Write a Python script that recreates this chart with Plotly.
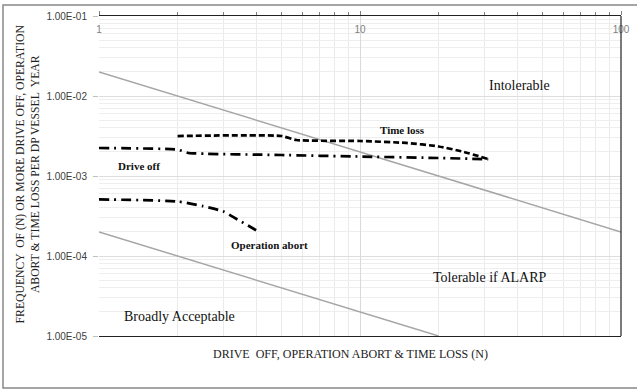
import numpy as np
import plotly.graph_objects as go

# ---- data ----
x_ticks = [1, 10, 100]
x_tick_labels = ["1", "10", "100"]
y_ticks = [1e-5, 1e-4, 1e-3, 1e-2, 1e-1]
y_tick_labels = ["1.00E-05", "1.00E-04", "1.00E-03", "1.00E-02", "1.00E-01"]

intolerable_n = [1, 100]
intolerable_f = [2e-2, 2e-4]
acceptable_n = [1, 20]
acceptable_f = [2e-4, 1e-5]

time_loss_n = [2, 5, 5.7, 10, 15, 20, 25, 31]
time_loss_f = [3.16e-3, 3.16e-3, 2.82e-3, 2.74e-3, 2.59e-3, 2.34e-3, 2.0e-3, 1.63e-3]

drive_off_n = [1, 2, 2.2, 5, 10, 20, 31]
drive_off_f = [2.24e-3, 2.14e-3, 1.94e-3, 1.83e-3, 1.75e-3, 1.68e-3, 1.62e-3]

op_abort_n = [1, 2, 2.5, 3, 3.25, 4]
op_abort_f = [5.1e-4, 4.8e-4, 4.2e-4, 3.6e-4, 3.1e-4, 2.1e-4]

label_texts = ["Intolerable", "Time loss", "Drive off", "Operation abort",
               "Tolerable if ALARP", "Broadly Acceptable"]
label_n = [41.0, 14.6, 1.42, 4.52, 31.5, 2.03]
label_f = [1.37e-2, 3.76e-3, 1.33e-3, 1.37e-4, 5.46e-5, 1.73e-5]
label_bold = [False, True, True, True, False, False]
label_size = [14, 11, 11, 11, 14, 14]

SERIF = "Liberation Serif, Times New Roman, serif"
SANS = "Liberation Sans, Arial, sans-serif"

fig = go.Figure()
for n, f in [(intolerable_n, intolerable_f), (acceptable_n, acceptable_f)]:
    fig.add_trace(go.Scatter(x=n, y=f, mode="lines", cliponaxis=True,
                             line=dict(color="#a6a6a6", width=1.5), hoverinfo="skip"))
fig.add_trace(go.Scatter(x=time_loss_n, y=time_loss_f, mode="lines",
                         line=dict(color="black", width=2.7, dash="6px,3px", shape="spline", smoothing=0.6)))
fig.add_trace(go.Scatter(x=drive_off_n, y=drive_off_f, mode="lines",
                         line=dict(color="black", width=2.7, dash="10px,5px,2px,5px", shape="spline", smoothing=0.4)))
fig.add_trace(go.Scatter(x=op_abort_n, y=op_abort_f, mode="lines",
                         line=dict(color="black", width=2.7, dash="10px,5px,2px,5px", shape="spline", smoothing=0.6)))

for t, n, f, b, s in zip(label_texts, label_n, label_f, label_bold, label_size):
    fig.add_annotation(x=np.log10(n), y=np.log10(f), xref="x", yref="y",
                       text=f"<b>{t}</b>" if b else t, showarrow=False,
                       font=dict(family=SERIF, size=s, color="#111"))

fig.add_annotation(x=0.482, y=(336 - 354) / 320, xref="paper", yref="paper",
                   xanchor="center", yanchor="middle",
                   text="DRIVE  OFF, OPERATION ABORT &amp; TIME LOSS (N)", showarrow=False,
                   font=dict(family=SERIF, size=12, color="#222"))
fig.add_annotation(x=(28 - 99) / 522, y=0.505, xref="paper", yref="paper", textangle=-90,
                   xanchor="center", yanchor="middle",
                   text="FREQUENCY  OF (N) OR MORE DRIVE OFF, OPERATION<br>ABORT &amp; TIME LOSS PER DP VESSEL  YEAR",
                   showarrow=False, font=dict(family=SERIF, size=11.7, color="#222"))

# right border line of plot area
fig.add_shape(type="line", xref="paper", yref="paper", x0=1, x1=1, y0=0, y1=1,
              line=dict(color="#222", width=1.2))
# outer frame
fig.add_shape(type="rect", xref="paper", yref="paper",
              x0=(3 - 99) / 522, x1=(645 - 99) / 522,
              y0=(336 - 388) / 320, y1=(336 - 5) / 320,
              line=dict(color="#888", width=1.5))

fig.update_layout(
    width=637, height=389,
    margin=dict(l=99, r=16, t=16, b=53, autoexpand=False),
    paper_bgcolor="white", plot_bgcolor="white",
    showlegend=False,
    xaxis=dict(type="log", range=[0, 2], side="top", automargin=False,
               tickvals=x_ticks, ticktext=x_tick_labels,
               ticklabelposition="inside", ticklabeloverflow="allow",
               ticklabelstandoff=9,
               tickfont=dict(family=SANS, size=10, color="#7f7f7f"),
               ticks="outside", ticklen=4, tickcolor="#7f7f7f",
               showline=True, linecolor="#222", linewidth=1.2, mirror=True,
               showgrid=True, gridcolor="#d9d9d9", gridwidth=1,
               minor=dict(dtick="D1", showgrid=True, gridcolor="#ebebeb",
                          ticks="outside", ticklen=3, tickcolor="#7f7f7f"),
               zeroline=False, fixedrange=True),
    yaxis=dict(type="log", range=[-5, -1], automargin=False,
               tickvals=y_ticks, ticktext=y_tick_labels,
               tickfont=dict(family=SANS, size=10, color="#404040"),
               ticks="outside", ticklen=5, tickcolor="#bfbfbf",
               ticklabelstandoff=4,
               showline=False,
               showgrid=True, gridcolor="#dedede", gridwidth=1,
               minor=dict(dtick="D1", showgrid=True, gridcolor="#eeeeee"),
               zeroline=False, fixedrange=True),
)

fig.write_html("out.html", config={"displayModeBar": False})

# remove default page margin so the figure sits at the window origin
with open("out.html", "r", encoding="utf-8") as fh:
    html = fh.read()
html = html.replace("<head>", "<head><style>html,body{margin:0;padding:0;overflow:hidden;}</style>", 1)
with open("out.html", "w", encoding="utf-8") as fh:
    fh.write(html)
